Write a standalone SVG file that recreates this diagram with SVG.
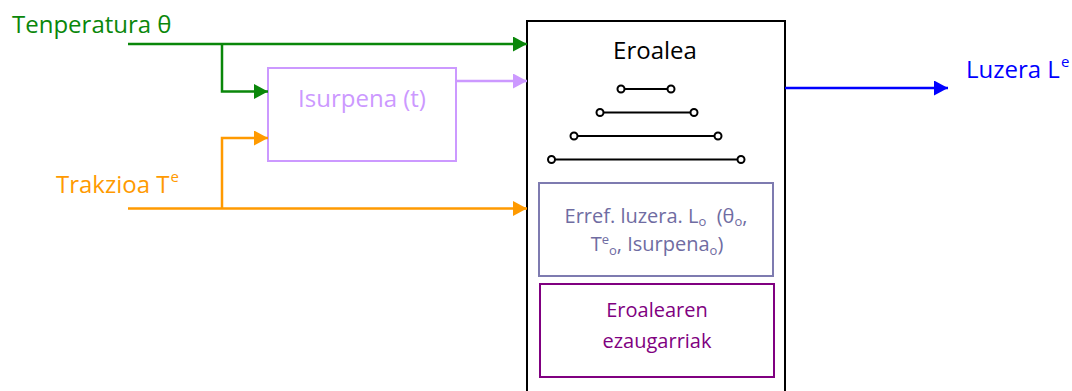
<svg xmlns="http://www.w3.org/2000/svg" width="1072" height="391" viewBox="0 0 1072 391">
  <style>
    text { font-family: "Open Sans", "Noto Sans", sans-serif; }
    .lbl { font-size: 24px; }
    .small { font-size: 20px; }
    .sup { font-size: 15px; }
    .sub { font-size: 13px; }
    .wire { fill: none; stroke-width: 2.5; }
    .bar { stroke: #000; stroke-width: 2; }
    .pin { fill: #fff; stroke: #000; stroke-width: 2; }
  </style>
  <defs>
    <marker id="ah-green" markerUnits="userSpaceOnUse" markerWidth="15" markerHeight="16" refX="14" refY="7.5" orient="auto">
      <path d="M0,0 L14,7.5 L0,15 z" fill="#0a870a"/>
    </marker>
    <marker id="ah-orange" markerUnits="userSpaceOnUse" markerWidth="15" markerHeight="16" refX="14" refY="7.5" orient="auto">
      <path d="M0,0 L14,7.5 L0,15 z" fill="#ff9a00"/>
    </marker>
    <marker id="ah-lilac" markerUnits="userSpaceOnUse" markerWidth="15" markerHeight="16" refX="14" refY="7.5" orient="auto">
      <path d="M0,0 L14,7.5 L0,15 z" fill="#cc99ff"/>
    </marker>
    <marker id="ah-blue" markerUnits="userSpaceOnUse" markerWidth="15" markerHeight="16" refX="14" refY="7.5" orient="auto">
      <path d="M0,0 L14,7.5 L0,15 z" fill="#0000ff"/>
    </marker>
  </defs>

  <rect width="1072" height="391" fill="#fff"/>

  <!-- input labels -->
  <g id="input-temperature">
    <text class="lbl" x="12" y="33" fill="#0a870a" font-size="23.5px">Tenperatura θ</text>
  </g>
  <g id="input-traction">
    <text class="lbl" x="56" y="193" fill="#ff9a00">Trakzioa T<tspan class="sup" dx="1" dy="-11">e</tspan></text>
  </g>

  <!-- creep block -->
  <g id="creep">
    <rect x="268" y="68" width="188" height="93" fill="#fff" stroke="#cc99ff" stroke-width="2"/>
    <text class="lbl" x="362" y="107" fill="#cc99ff" text-anchor="middle">Isurpena (t)</text>
  </g>

  <!-- conductor block -->
  <g id="conductor">
    <rect x="527" y="21" width="258" height="380" fill="#fff" stroke="#000" stroke-width="2"/>
    <text class="lbl" x="655" y="59" fill="#000" text-anchor="middle">Eroalea</text>
    <line class="bar" x1="621" y1="89" x2="671" y2="89"/>
    <line class="bar" x1="600" y1="112.5" x2="694" y2="112.5"/>
    <line class="bar" x1="574" y1="136" x2="718" y2="136"/>
    <line class="bar" x1="551.5" y1="159.5" x2="741" y2="159.5"/>
    <circle class="pin" cx="621" cy="89" r="3.5"/>
    <circle class="pin" cx="671" cy="89" r="3.5"/>
    <circle class="pin" cx="600" cy="112.5" r="3.5"/>
    <circle class="pin" cx="694" cy="112.5" r="3.5"/>
    <circle class="pin" cx="574" cy="136" r="3.5"/>
    <circle class="pin" cx="718" cy="136" r="3.5"/>
    <circle class="pin" cx="551.5" cy="159.5" r="3.5"/>
    <circle class="pin" cx="741" cy="159.5" r="3.5"/>
  </g>

  <g id="reference-length">
    <rect x="539" y="183" width="234" height="93" fill="#fff" stroke="#7e7bb0" stroke-width="2"/>
    <text class="small" x="656" y="223" fill="#6f6ca2" text-anchor="middle">Erref. luzera. L<tspan class="sub" dy="3">o</tspan><tspan dy="-3" xml:space="preserve">  (θ</tspan><tspan class="sub" dy="3">o</tspan><tspan dy="-3">,</tspan></text>
    <text class="small" x="657" y="251" fill="#6f6ca2" text-anchor="middle">T<tspan class="sub" dy="-7" font-size="12px">e</tspan><tspan class="sub" dy="11">o</tspan><tspan dy="-4">, Isurpena</tspan><tspan class="sub" dy="4">o</tspan><tspan dy="-4">)</tspan></text>
  </g>

  <g id="characteristics">
    <rect x="540" y="284" width="234" height="93" fill="#fff" stroke="#800080" stroke-width="2"/>
    <text class="small" x="657" y="317" fill="#800080" text-anchor="middle">Eroalearen</text>
    <text class="small" x="657" y="348" fill="#800080" text-anchor="middle">ezaugarriak</text>
  </g>

  <!-- output label -->
  <g id="output-length">
    <text class="lbl" x="966" y="78" fill="#0000ff">Luzera L<tspan class="sup" dx="1" dy="-11">e</tspan></text>
  </g>

  <!-- connectors -->
  <g id="connectors">
    <path class="wire" stroke="#0a870a" d="M128,44 H527" marker-end="url(#ah-green)"/>
    <path class="wire" stroke="#0a870a" d="M222,44 V91.5 H268" marker-end="url(#ah-green)"/>
    <path class="wire" stroke="#ff9a00" d="M128,208.5 H527" marker-end="url(#ah-orange)"/>
    <path class="wire" stroke="#ff9a00" d="M222,208.5 V138 H268" marker-end="url(#ah-orange)"/>
    <path class="wire" stroke="#cc99ff" d="M456,81 H527" marker-end="url(#ah-lilac)"/>
    <path class="wire" stroke="#0000ff" d="M785,88 H948" marker-end="url(#ah-blue)"/>
  </g>
</svg>
